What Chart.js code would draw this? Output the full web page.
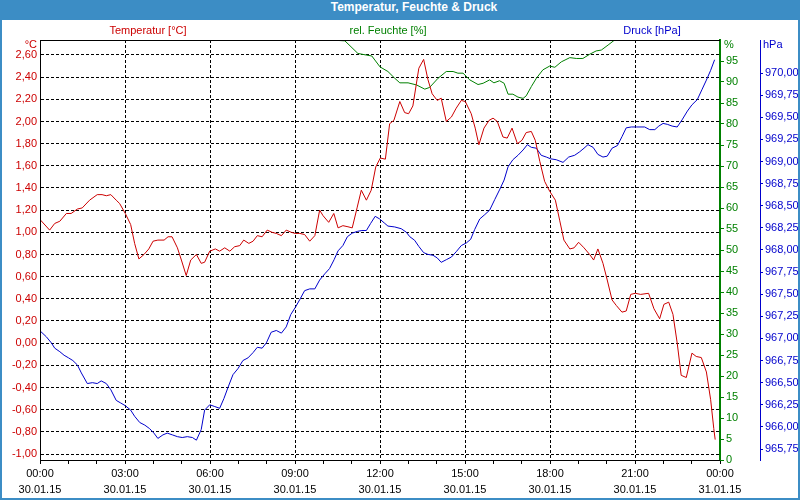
<!DOCTYPE html>
<html>
<head>
<meta charset="utf-8">
<script src="https://cdn.jsdelivr.net/npm/chart.js@4.4.1/dist/chart.umd.min.js"></script>
<style>
  html, body { margin: 0; padding: 0; background: #fff; }
  #frame { position: absolute; left: 0; top: 0; width: 800px; height: 500px; background: #3c8dc5; }
  #title { position: absolute; left: 0; top: 0; width: 800px; height: 20px; line-height: 20px; padding-left: 28px; box-sizing: border-box;
           text-align: center; color: #fff; font: bold 12px "Liberation Sans", Arial, sans-serif; }
  #plot { position: absolute; left: 2px; top: 20px; width: 796px; height: 478px; background: #fff; }
</style>
</head>
<body>
<div id="frame">
  <div id="title">Temperatur, Feuchte &amp; Druck</div>
  <div id="plot"><canvas id="chart" width="796" height="478"></canvas></div>
</div>
<script>
/* ===== Temperatur, Feuchte & Druck — 30.01.15 (hours since 00:00) ===== */

const TEMP_HOURS = [0.02, 0.34, 0.52, 0.70, 0.93, 1.10, 1.32, 1.49, 1.75, 2.02,
  2.19, 2.34, 2.50, 2.69, 2.81, 3.01, 3.20, 3.34, 3.49, 3.67,
  3.84, 3.99, 4.16, 4.38, 4.52, 4.66, 4.85, 4.99, 5.16, 5.32,
  5.52, 5.69, 5.81, 5.99, 6.19, 6.34, 6.52, 6.70, 6.87, 7.05,
  7.19, 7.37, 7.52, 7.67, 7.84, 8.02, 8.19, 8.34, 8.52, 8.69,
  8.87, 9.01, 9.17, 9.34, 9.52, 9.70, 9.87, 9.99, 10.19, 10.37,
  10.52, 10.69, 10.87, 11.02, 11.19, 11.34, 11.52, 11.69, 11.85, 12.01,
  12.19, 12.34, 12.49, 12.70, 12.87, 13.01, 13.16, 13.37, 13.54, 13.69,
  13.84, 14.02, 14.16, 14.34, 14.52, 14.69, 14.87, 15.01, 15.22, 15.36,
  15.49, 15.67, 15.85, 15.99, 16.14, 16.34, 16.49, 16.66, 16.85, 17.01,
  17.16, 17.34, 17.48, 17.64, 17.81, 17.99, 18.19, 18.34, 18.49, 18.70,
  18.85, 19.01, 19.20, 19.40, 19.54, 19.69, 19.87, 20.02, 20.19, 20.34,
  20.54, 20.69, 20.85, 21.01, 21.20, 21.48, 21.67, 21.87, 22.02, 22.19,
  22.34, 22.49, 22.63, 22.81, 23.01, 23.16, 23.34, 23.52, 23.67, 23.78,
  23.83];
const TEMP_VALUES = [1.11, 1.02, 1.08, 1.10, 1.17, 1.17, 1.21, 1.22, 1.29, 1.34,
  1.34, 1.33, 1.34, 1.29, 1.26, 1.17, 1.07, 0.90, 0.76, 0.80,
  0.85, 0.92, 0.93, 0.93, 0.96, 0.96, 0.86, 0.75, 0.61, 0.75,
  0.80, 0.72, 0.73, 0.83, 0.85, 0.83, 0.86, 0.83, 0.87, 0.88,
  0.93, 0.90, 0.92, 0.97, 0.96, 1.02, 1.00, 0.99, 0.97, 1.02,
  1.00, 0.99, 0.99, 0.98, 0.92, 0.97, 1.20, 1.15, 1.09, 1.17,
  1.04, 1.06, 1.05, 1.04, 1.22, 1.38, 1.29, 1.38, 1.59, 1.67,
  1.66, 1.98, 2.01, 2.18, 2.08, 2.07, 2.14, 2.48, 2.56, 2.38,
  2.25, 2.19, 2.21, 2.00, 2.04, 2.12, 2.19, 2.18, 2.07, 1.94,
  1.79, 1.94, 2.01, 2.03, 2.00, 1.86, 1.85, 1.94, 1.80, 1.83,
  1.90, 1.91, 1.83, 1.64, 1.46, 1.37, 1.29, 1.11, 0.93, 0.85,
  0.86, 0.91, 0.86, 0.80, 0.75, 0.85, 0.72, 0.57, 0.39, 0.34,
  0.28, 0.29, 0.44, 0.45, 0.44, 0.45, 0.31, 0.22, 0.35, 0.37,
  0.26, 0.00, -0.29, -0.31, -0.09, -0.12, -0.13, -0.26, -0.51, -0.77,
  -0.87];

const HUM_HOURS = [0, 10.24, 10.76, 11.22, 11.53, 11.71, 12.00, 12.28, 12.52, 12.70,
  12.99, 13.29, 13.58, 13.75, 14.05, 14.34, 14.58, 14.75, 14.93, 15.17,
  15.46, 15.64, 15.87, 16.02, 16.22, 16.38, 16.52, 16.69, 16.87, 17.05,
  17.16, 17.34, 17.52, 17.75, 17.99, 18.17, 18.40, 18.70, 18.93, 19.16,
  19.40, 19.63, 19.81, 20.05, 20.28, 23.83];
const HUM_VALUES = [100, 100, 99.8, 96.8, 96.4, 96.2, 93.6, 92.5, 90.9, 89.8,
  89.8, 89.3, 88.3, 88.7, 90.9, 92.5, 92.5, 92.1, 92.1, 90.5,
  89.4, 89.7, 90.5, 89.8, 90.3, 89.7, 87.1, 87.1, 86.4, 86.1,
  86.7, 88.9, 90.9, 92.9, 93.8, 93.5, 94.8, 95.8, 95.6, 95.6,
  96.6, 97.4, 97.6, 98.8, 100, 100];

const PRESS_HOURS = [0.02, 0.22, 0.40, 0.52, 0.70, 0.85, 1.01, 1.16, 1.32, 1.46,
  1.67, 1.85, 2.02, 2.16, 2.34, 2.50, 2.69, 2.85, 3.01, 3.20,
  3.34, 3.52, 3.70, 3.87, 4.02, 4.16, 4.34, 4.49, 4.67, 4.85,
  5.02, 5.20, 5.38, 5.52, 5.69, 5.81, 5.99, 6.17, 6.34, 6.49,
  6.64, 6.81, 6.99, 7.16, 7.34, 7.52, 7.67, 7.84, 7.99, 8.16,
  8.34, 8.52, 8.69, 8.85, 9.01, 9.17, 9.34, 9.52, 9.70, 9.87,
  10.05, 10.22, 10.38, 10.52, 10.69, 10.85, 11.02, 11.20, 11.36, 11.52,
  11.67, 11.83, 11.99, 12.17, 12.28, 12.52, 12.75, 12.93, 13.05, 13.22,
  13.37, 13.54, 13.69, 13.87, 14.02, 14.16, 14.34, 14.52, 14.69, 14.87,
  15.05, 15.20, 15.34, 15.52, 15.70, 15.87, 16.05, 16.22, 16.38, 16.52,
  16.69, 16.87, 17.05, 17.20, 17.34, 17.52, 17.69, 17.87, 18.02, 18.22,
  18.46, 18.66, 18.87, 19.05, 19.20, 19.34, 19.52, 19.69, 19.87, 20.02,
  20.19, 20.38, 20.54, 20.69, 20.87, 21.05, 21.34, 21.52, 21.70, 21.84,
  21.99, 22.14, 22.31, 22.49, 22.66, 22.85, 23.01, 23.20, 23.36, 23.52,
  23.67, 23.81];
const PRESS_VALUES = [967.08, 967.02, 966.95, 966.89, 966.85, 966.81, 966.78, 966.75, 966.70, 966.61,
  966.49, 966.50, 966.49, 966.52, 966.49, 966.42, 966.30, 966.27, 966.24, 966.19,
  966.12, 966.05, 966.02, 965.98, 965.93, 965.87, 965.91, 965.93, 965.91, 965.89,
  965.88, 965.89, 965.88, 965.85, 965.97, 966.19, 966.25, 966.23, 966.21, 966.32,
  966.45, 966.59, 966.66, 966.75, 966.78, 966.84, 966.90, 966.89, 966.95, 967.07,
  967.09, 967.06, 967.13, 967.27, 967.35, 967.44, 967.54, 967.56, 967.56, 967.66,
  967.73, 967.79, 967.89, 967.99, 968.05, 968.15, 968.19, 968.21, 968.22, 968.22,
  968.30, 968.38, 968.35, 968.30, 968.27, 968.26, 968.24, 968.20, 968.15, 968.11,
  968.04, 967.97, 967.95, 967.94, 967.91, 967.86, 967.89, 967.92, 967.98, 968.05,
  968.08, 968.12, 968.23, 968.35, 968.40, 968.45, 968.57, 968.68, 968.79, 968.94,
  969.02, 969.07, 969.13, 969.19, 969.16, 969.15, 969.07, 969.05, 969.03, 969.02,
  968.99, 969.05, 969.07, 969.11, 969.15, 969.19, 969.16, 969.08, 969.05, 969.06,
  969.15, 969.18, 969.28, 969.38, 969.39, 969.39, 969.39, 969.36, 969.36, 969.40,
  969.43, 969.42, 969.40, 969.39, 969.47, 969.57, 969.64, 969.70, 969.81, 969.92,
  970.03, 970.15];

const TEMP_TICKS = [-1.0, -0.8, -0.6, -0.4, -0.2, 0, 0.2, 0.4, 0.6, 0.8, 1.0, 1.2, 1.4, 1.6, 1.8, 2.0, 2.2, 2.4, 2.6];
const HUM_TICKS = [0, 5, 10, 15, 20, 25, 30, 35, 40, 45, 50, 55, 60, 65, 70, 75, 80, 85, 90, 95];
const PRESS_TICKS = [965.75, 966.00, 966.25, 966.50, 966.75, 967.00, 967.25, 967.50, 967.75,
  968.00, 968.25, 968.50, 968.75, 969.00, 969.25, 969.50, 969.75, 970.00];
const HOUR_TICKS = [0, 1, 2, 3, 4, 5, 6, 7, 8, 9, 10, 11, 12, 13, 14, 15, 16, 17, 18, 19, 20, 21, 22, 23, 24];
const TIME_LABELS = { 0: '00:00', 3: '03:00', 6: '06:00', 9: '09:00', 12: '12:00', 15: '15:00', 18: '18:00', 21: '21:00', 24: '00:00' };
const DATE_LABELS = { 0: '30.01.15', 3: '30.01.15', 6: '30.01.15', 9: '30.01.15', 12: '30.01.15', 15: '30.01.15', 18: '30.01.15', 21: '30.01.15', 24: '31.01.15' };

const RED = '#cc0000';
const GREEN = '#008000';
const BLUE = '#0000cc';
const FONT_FAMILY = '"Liberation Sans", Arial, sans-serif';
const FONT = { family: FONT_FAMILY, size: 11 };
const DASH = [3, 2];

const toPoints = (xs, ys) => xs.map((x, i) => ({ x, y: ys[i] }));
const comma2 = v => v.toFixed(2).replace('.', ',');
const fixTicks = list => scale => { scale.ticks = list.map(v => ({ value: v })); };

// plot frame on top of the lines + axis captions
const frameText = {
  id: 'frameText',
  afterDatasetsDraw(chart) {
    const { ctx, chartArea: a } = chart;
    ctx.save();
    ctx.fillStyle = '#000';
    ctx.fillRect(a.left, a.top, a.right - a.left, 1);
    ctx.fillRect(a.left, a.top, 1, a.bottom - a.top);
    ctx.fillRect(a.left, a.bottom, a.right - a.left, 1);
    ctx.restore();
  },
  afterDraw(chart) {
    const { ctx, chartArea: a } = chart;
    const press = chart.scales.yPress;
    ctx.save();
    ctx.font = `11px ${FONT_FAMILY}`;
    ctx.textBaseline = 'middle';
    ctx.textAlign = 'center';
    ctx.fillStyle = RED;   ctx.fillText('Temperatur [\u00B0C]', a.left + 108, 11);
    ctx.fillStyle = GREEN; ctx.fillText('rel. Feuchte [%]', a.left + 348, 11);
    ctx.fillStyle = BLUE;  ctx.fillText('Druck [hPa]', a.left + 612, 11);
    ctx.textAlign = 'right';
    ctx.fillStyle = RED;   ctx.fillText('\u00B0C', a.left - 3, a.top + 5);
    ctx.textAlign = 'left';
    ctx.fillStyle = GREEN; ctx.fillText('%', a.right + 4, a.top + 5);
    ctx.fillStyle = BLUE;  ctx.fillText('hPa', press.left + 3, a.top + 5);
    ctx.restore();
  }
};

const line = (label, axis, color, data, extra) => Object.assign({
  label, yAxisID: axis, data, borderColor: color, backgroundColor: color,
  borderWidth: 1, pointRadius: 0, tension: 0, fill: false
}, extra || {});

new Chart(document.getElementById('chart'), {
  type: 'line',
  data: {
    datasets: [
      line('Temperatur [\u00B0C]', 'yTemp', RED, toPoints(TEMP_HOURS, TEMP_VALUES)),
      line('rel. Feuchte [%]', 'yHum', GREEN, toPoints(HUM_HOURS, HUM_VALUES), { clip: 0 }),
      line('Druck [hPa]', 'yPress', BLUE, toPoints(PRESS_HOURS, PRESS_VALUES))
    ]
  },
  options: {
    responsive: false,
    animation: false,
    events: [],
    layout: { padding: { top: 20, left: 0, right: 0, bottom: 0 } },
    plugins: { legend: { display: false }, tooltip: { enabled: false }, title: { display: false } },
    scales: {
      x: {
        type: 'linear', min: 0, max: 24,
        afterBuildTicks: fixTicks(HOUR_TICKS),
        afterFit: s => { s.height = 38; },
        border: { color: '#000', width: 1, dash: DASH },
        grid: {
          color: c => (c.tick && c.tick.value % 3 === 0) ? '#000' : 'rgba(0,0,0,0)',
          tickColor: '#000', tickLength: 4, tickBorderDash: [], lineWidth: 1
        },
        ticks: {
          autoSkip: false, maxRotation: 0, padding: 2, color: '#000',
          font: { family: FONT_FAMILY, size: 11, lineHeight: 16 / 11 },
          callback: v => TIME_LABELS[v] ? [TIME_LABELS[v], DATE_LABELS[v]] : ''
        }
      },
      yTemp: {
        position: 'left', min: -1.054, max: 2.735,
        afterBuildTicks: fixTicks(TEMP_TICKS),
        afterFit: s => { s.width = 38; },
        border: { color: '#000', width: 1, dash: DASH },
        grid: { color: '#000', lineWidth: 1, drawTicks: false },
        ticks: { color: RED, font: FONT, padding: 3, callback: comma2 }
      },
      yHum: {
        position: 'right', weight: 0, min: 0, max: 100,
        afterBuildTicks: fixTicks(HUM_TICKS),
        afterFit: s => { s.width = 40; },
        border: { color: GREEN, width: 2 },
        grid: { drawOnChartArea: false, color: GREEN, tickLength: 4 },
        ticks: { color: GREEN, font: FONT, padding: 2, callback: v => String(v) }
      },
      yPress: {
        position: 'right', weight: 1, min: 965.626, max: 970.373,
        afterBuildTicks: fixTicks(PRESS_TICKS),
        afterFit: s => { s.width = 38; },
        border: { color: BLUE, width: 1 },
        grid: { drawOnChartArea: false, color: BLUE, tickLength: 3 },
        ticks: { color: BLUE, font: FONT, padding: 2, callback: comma2 }
      }
    }
  },
  plugins: [frameText]
});
</script>
</body>
</html>
